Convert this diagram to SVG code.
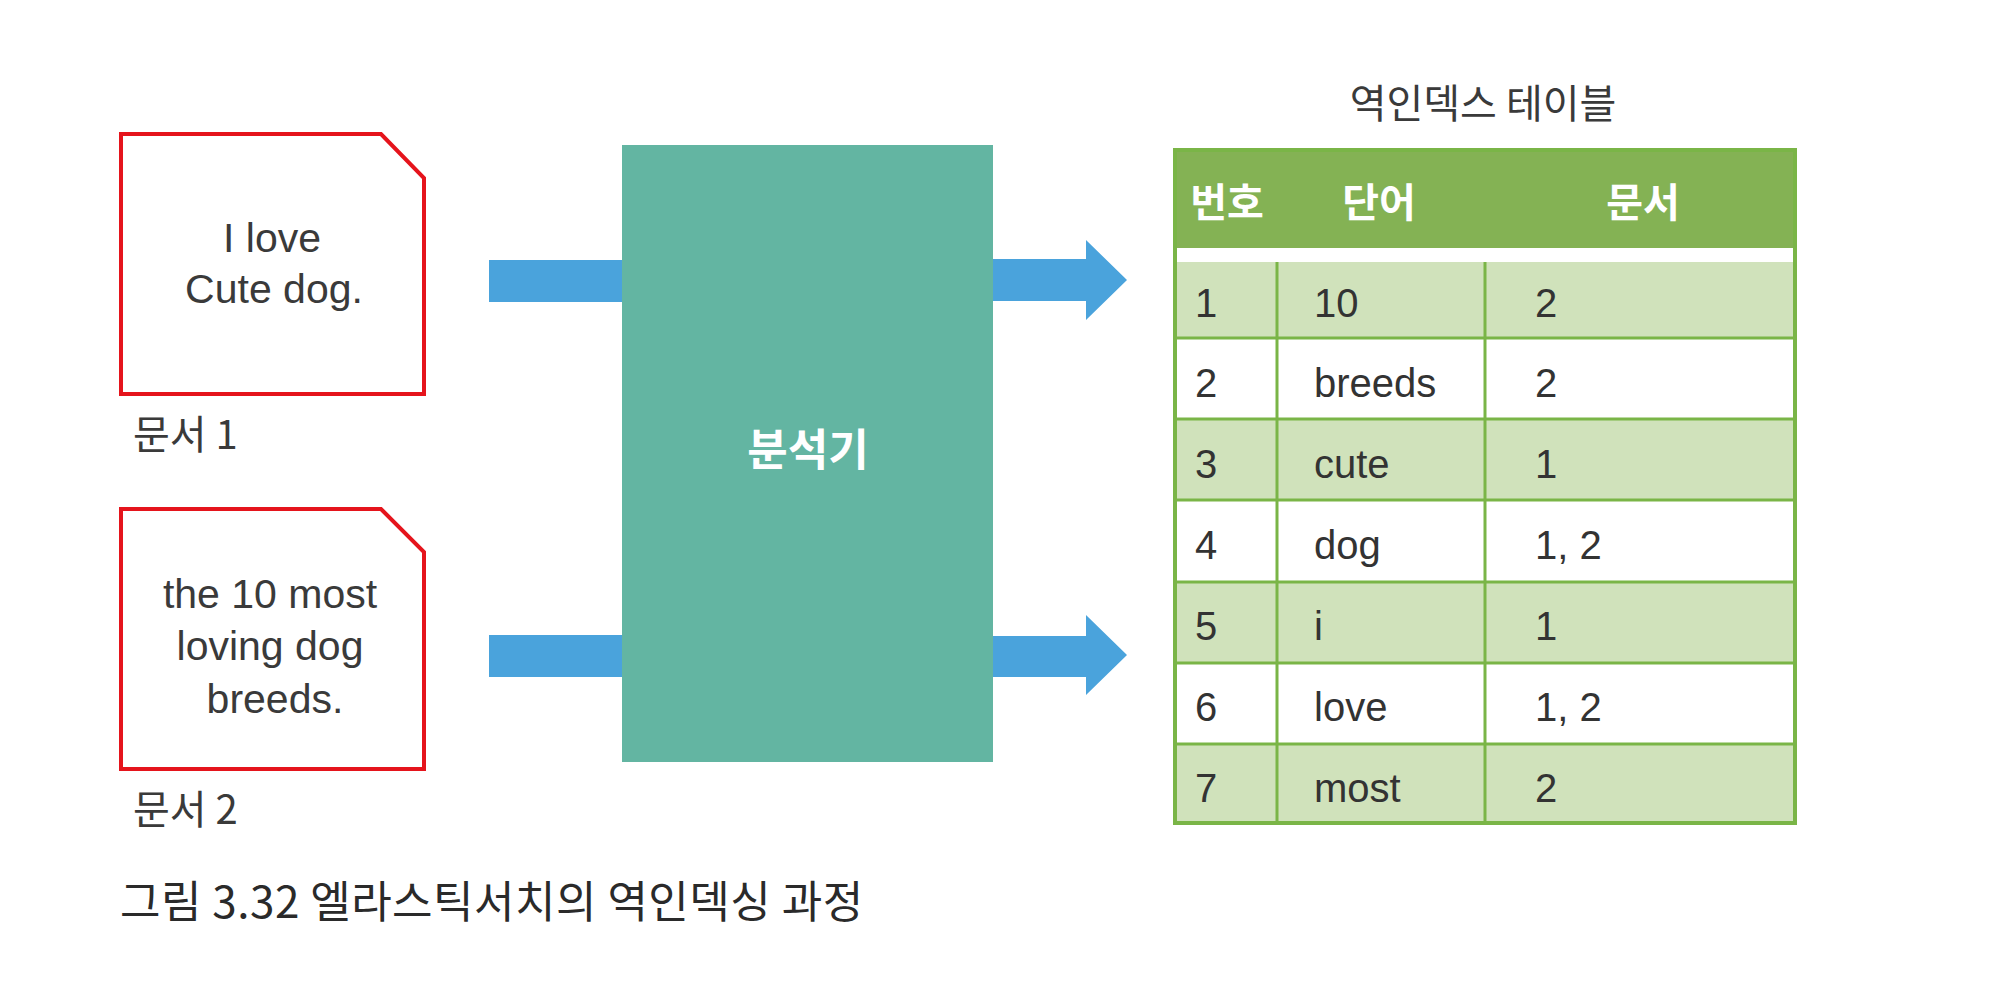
<svg xmlns="http://www.w3.org/2000/svg" width="2000" height="996" viewBox="0 0 2000 996">
<style>
.doc{fill:#ffffff;stroke:#e5141c;stroke-width:4;stroke-linejoin:miter}
.en{font-family:"Liberation Sans",Arial,sans-serif;font-size:41px;fill:#3a3a3a}
.ko{font-family:"Noto Sans CJK KR","Liberation Sans",sans-serif;font-size:40px;fill:#3a3a3a}
.hd{font-family:"Noto Sans CJK KR","Liberation Sans",sans-serif;font-size:40px;font-weight:bold;fill:#ffffff}
.cell{font-family:"Liberation Sans",Arial,sans-serif;font-size:40px;fill:#333333}
.arrow{fill:#4aa3dc}
.ln{stroke:#7ab547;stroke-width:3;fill:none}
.rowg{fill:#d0e2bb}
</style>
<rect width="2000" height="996" fill="#ffffff"/>
<g id="connectors">
<rect class="arrow" x="489" y="260" width="134" height="42"/>
<rect class="arrow" x="489" y="635" width="134" height="42"/>
<polygon class="arrow" points="992,259 1086,259 1086,240 1127,280 1086,320 1086,301 992,301"/>
<polygon class="arrow" points="992,636 1086,636 1086,615 1127,655 1086,695 1086,677 992,677"/>
</g>
<g id="doc1">
<path class="doc" d="M121,134 H381 L424,178 V394 H121 Z"/>
<text class="en" x="272" y="252" text-anchor="middle">I love</text>
<text class="en" x="274" y="303" text-anchor="middle">Cute dog.</text>
<text class="ko" x="133" y="449">문서 1</text>
</g>
<g id="doc2">
<path class="doc" d="M121,509 H381 L424,552 V769 H121 Z"/>
<text class="en" x="270" y="608" text-anchor="middle">the 10 most</text>
<text class="en" x="270" y="660" text-anchor="middle">loving dog</text>
<text class="en" x="275" y="713" text-anchor="middle">breeds.</text>
<text class="ko" x="133" y="824">문서 2</text>
</g>
<g id="analyzer">
<rect x="622" y="145" width="371" height="617" fill="#63b5a2"/>
<text x="808" y="466" text-anchor="middle" font-family="'Noto Sans CJK KR','Liberation Sans',sans-serif" font-size="44" font-weight="bold" fill="#ffffff">분석기</text>
</g>
<g id="table">
<text class="ko" x="1483" y="118" text-anchor="middle" fill="#444444">역인덱스 테이블</text>
<rect x="1173" y="148" width="624" height="677" fill="#ffffff"/>
<rect x="1173" y="148" width="624" height="100" fill="#84b254"/>
<rect class="rowg" x="1173" y="262" width="624" height="76"/>
<rect class="rowg" x="1173" y="419" width="624" height="81"/>
<rect class="rowg" x="1173" y="582" width="624" height="81"/>
<rect class="rowg" x="1173" y="744" width="624" height="81"/>
<line class="ln" x1="1173" y1="338" x2="1797" y2="338"/>
<line class="ln" x1="1173" y1="419" x2="1797" y2="419"/>
<line class="ln" x1="1173" y1="500" x2="1797" y2="500"/>
<line class="ln" x1="1173" y1="582" x2="1797" y2="582"/>
<line class="ln" x1="1173" y1="663" x2="1797" y2="663"/>
<line class="ln" x1="1173" y1="744" x2="1797" y2="744"/>
<line class="ln" x1="1277" y1="262" x2="1277" y2="825"/>
<line class="ln" x1="1485" y1="262" x2="1485" y2="825"/>
<rect x="1175" y="150" width="620" height="673" fill="none" stroke="#7ab547" stroke-width="4"/>
<text class="hd" x="1227" y="217" text-anchor="middle">번호</text>
<text class="hd" x="1379" y="217" text-anchor="middle">단어</text>
<text class="hd" x="1643" y="217" text-anchor="middle">문서</text>
<text class="cell" x="1195" y="317">1</text><text class="cell" x="1314" y="317">10</text><text class="cell" x="1535" y="317">2</text>
<text class="cell" x="1195" y="397">2</text><text class="cell" x="1314" y="397">breeds</text><text class="cell" x="1535" y="397">2</text>
<text class="cell" x="1195" y="478">3</text><text class="cell" x="1314" y="478">cute</text><text class="cell" x="1535" y="478">1</text>
<text class="cell" x="1195" y="559">4</text><text class="cell" x="1314" y="559">dog</text><text class="cell" x="1535" y="559">1, 2</text>
<text class="cell" x="1195" y="640">5</text><text class="cell" x="1314" y="640">i</text><text class="cell" x="1535" y="640">1</text>
<text class="cell" x="1195" y="721">6</text><text class="cell" x="1314" y="721">love</text><text class="cell" x="1535" y="721">1, 2</text>
<text class="cell" x="1195" y="802">7</text><text class="cell" x="1314" y="802">most</text><text class="cell" x="1535" y="802">2</text>
</g>
<text id="caption" x="120" y="918" font-family="'Noto Sans CJK KR','Liberation Sans',sans-serif" font-size="44" fill="#2a2a2a" letter-spacing="0.5">그림 3.32 엘라스틱서치의 역인덱싱 과정</text>
</svg>
